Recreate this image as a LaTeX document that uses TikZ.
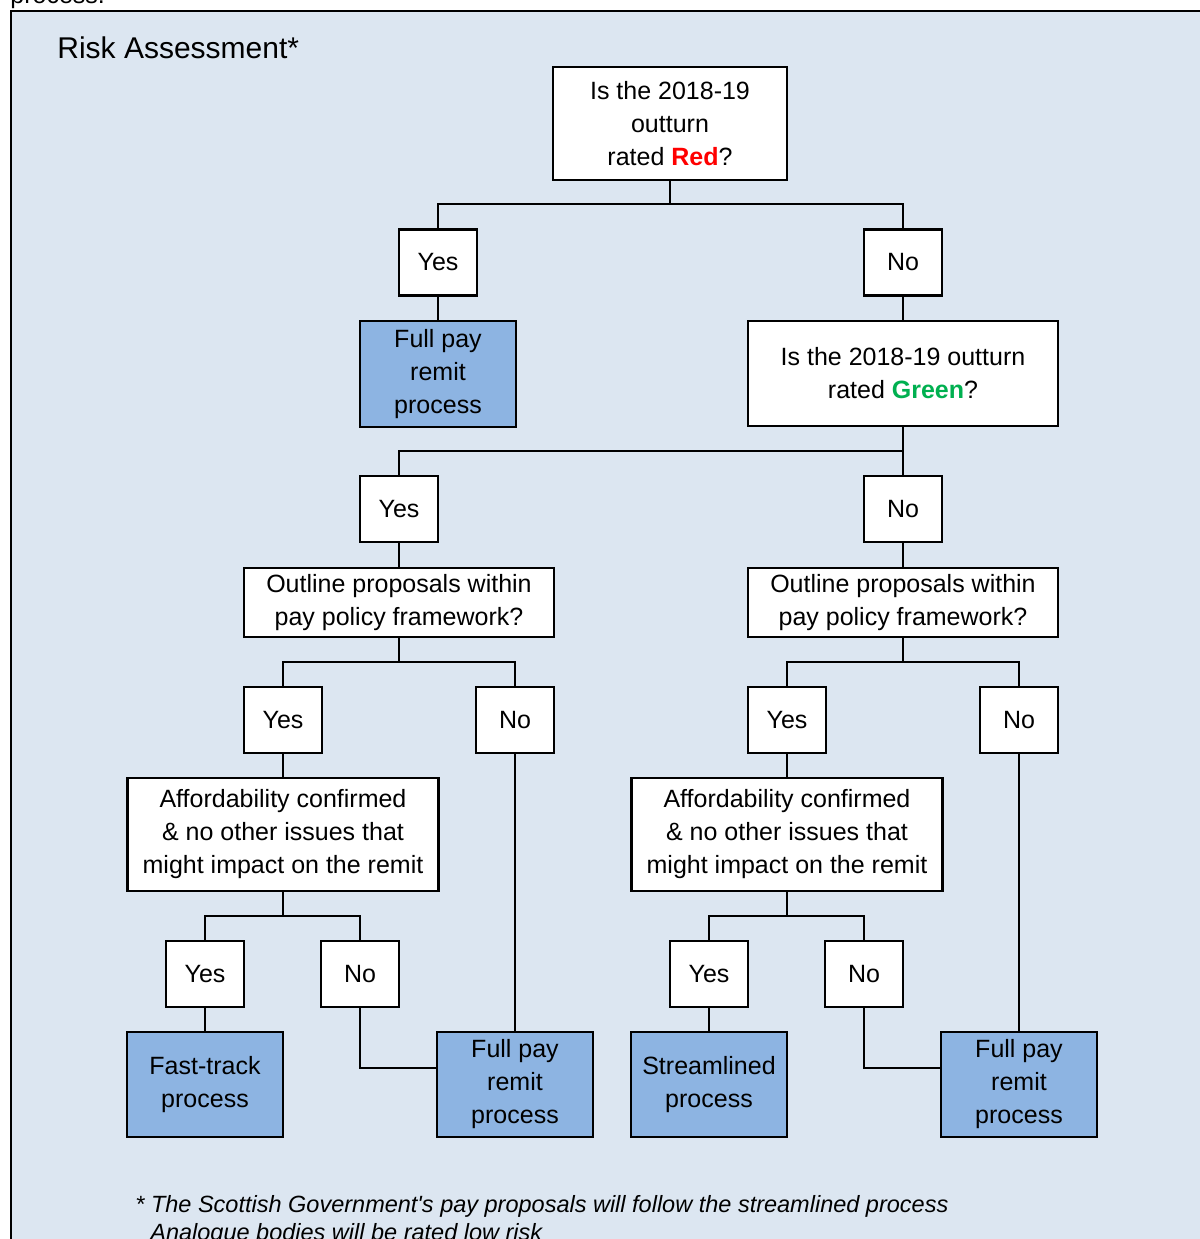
\documentclass[tikz,border=0pt]{standalone}
\usepackage{fontspec}
\setmainfont{Liberation Sans}
\usetikzlibrary{calc}

\definecolor{panelbg}{RGB}{220,230,241}
\definecolor{endblue}{RGB}{141,180,226}
\definecolor{ratedred}{RGB}{255,0,0}
\definecolor{ratedgreen}{RGB}{0,176,80}

\newcommand{\bodyfont}{\fontsize{12.5}{16.5}\selectfont}
\newcommand{\notefont}{\fontsize{11.75}{14}\selectfont\itshape}

\tikzset{
  boxline/.style={draw, line width=1.2pt, inner sep=0pt, align=center, font=\bodyfont},
  askbox/.style={boxline, fill=white},
  tickbox/.style={boxline, fill=white, minimum width=39pt, minimum height=33pt},
  endbox/.style={boxline, fill=endblue, minimum width=78pt, minimum height=52.5pt},
  link/.style={line width=1pt}
}

\begin{document}
\begin{tikzpicture}[x=0.5pt,y=0.5pt,yscale=-1,xscale=1]
\useasboundingbox (0,0) rectangle (1200,1239);
\clip (0,0) rectangle (1200,1239);
% panel
\draw [line width=1pt, fill=panelbg] (11,11) rectangle (1220,1260);
% Text Node
\node [anchor=base west, inner sep=0pt, font=\bodyfont] (prevline) at (10,3) {process.};
% Text Node
\node [anchor=base west, inner sep=0pt, font=\fontsize{15}{17}\selectfont] (title) at (57,58) {Risk Assessment*};

% first question
\node [askbox, minimum width=117pt, minimum height=56.5pt] (q1) at (670,123.5)
  {Is the 2018-19\\outturn\\rated \textcolor{ratedred}{\textbf{Red}}?};
\node [tickbox] (yesa) at (438,262.5) {Yes};
\node [tickbox] (noa) at (903,262.5) {No};
\node [endbox, minimum height=53pt] (fulla) at (438,374) {Full pay\\remit\\process};

% second question
\node [askbox, minimum width=155pt, minimum height=52.5pt] (q2) at (903,373.5)
  {Is the 2018-19 outturn\\rated \textcolor{ratedgreen}{\textbf{Green}}?};
\node [tickbox] (yesb) at (399,509) {Yes};
\node [tickbox] (nob) at (903,509) {No};

% outline proposals
\node [askbox, minimum width=155pt, minimum height=34.5pt] (q3l) at (399,602.5)
  {Outline proposals within\\pay policy framework?};
\node [askbox, minimum width=155pt, minimum height=34.5pt] (q3r) at (903,602.5)
  {Outline proposals within\\pay policy framework?};
\node [tickbox] (yescl) at (283,720) {Yes};
\node [tickbox] (nocl) at (515,720) {No};
\node [tickbox] (yescr) at (787,720) {Yes};
\node [tickbox] (nocr) at (1019,720) {No};

% affordability
\node [askbox, minimum width=155.5pt, minimum height=56.5pt] (affl) at (283,834.5)
  {Affordability confirmed\\\& no other issues that\\might impact on the remit};
\node [askbox, minimum width=155.5pt, minimum height=56.5pt] (affr) at (787,834.5)
  {Affordability confirmed\\\& no other issues that\\might impact on the remit};
\node [tickbox] (yesdl) at (205,974) {Yes};
\node [tickbox] (nodl) at (360,974) {No};
\node [tickbox] (yesdr) at (709,974) {Yes};
\node [tickbox] (nodr) at (864,974) {No};

% outcomes
\node [endbox] (fast) at (205,1084.5) {Fast-track\\process};
\node [endbox] (fulll) at (515,1084.5) {Full pay\\remit\\process};
\node [endbox] (stream) at (709,1084.5) {Streamlined\\process};
\node [endbox] (fullr) at (1019,1084.5) {Full pay\\remit\\process};

% junctions
\coordinate (ja) at (670,204);
\coordinate (jb) at (903,451);
\coordinate (jcl) at (399,662);
\coordinate (jcr) at (903,662);
\coordinate (jdl) at (283,916);
\coordinate (jdr) at (787,916);

%Straight Lines
\draw [link] (q1.south) -- (ja);
\draw [link] (yesa.north) |- (ja) -| (noa.north);
\draw [link] (yesa.south) -- (fulla.north);
\draw [link] (noa.south) -- (q2.north);
%Straight Lines
\draw [link] (q2.south) -- (jb);
\draw [link] (yesb.north) |- (jb) -- (nob.north);
\draw [link] (yesb.south) -- (q3l.north);
\draw [link] (nob.south) -- (q3r.north);
%Straight Lines
\draw [link] (q3l.south) -- (jcl);
\draw [link] (yescl.north) |- (jcl) -| (nocl.north);
\draw [link] (q3r.south) -- (jcr);
\draw [link] (yescr.north) |- (jcr) -| (nocr.north);
\draw [link] (yescl.south) -- (affl.north);
\draw [link] (yescr.south) -- (affr.north);
\draw [link] (nocl.south) -- (fulll.north);
\draw [link] (nocr.south) -- (fullr.north);
%Straight Lines
\draw [link] (affl.south) -- (jdl);
\draw [link] (yesdl.north) |- (jdl) -| (nodl.north);
\draw [link] (affr.south) -- (jdr);
\draw [link] (yesdr.north) |- (jdr) -| (nodr.north);
\draw [link] (yesdl.south) -- (fast.north);
\draw [link] (yesdr.south) -- (stream.north);
\draw [link] (nodl.south) |- ($(fulll.west)+(0,-17)$);
\draw [link] (nodr.south) |- ($(fullr.west)+(0,-17)$);

% Text Node
\node [anchor=base west, inner sep=0pt, font=\notefont] (note) at (135,1212)
  {* The Scottish Government\textquotesingle s pay proposals will follow the streamlined process};
% Text Node
\node [anchor=base west, inner sep=0pt, font=\notefont] (notetwo) at (150,1240)
  {Analogue bodies will be rated low risk};
\end{tikzpicture}
\end{document}
